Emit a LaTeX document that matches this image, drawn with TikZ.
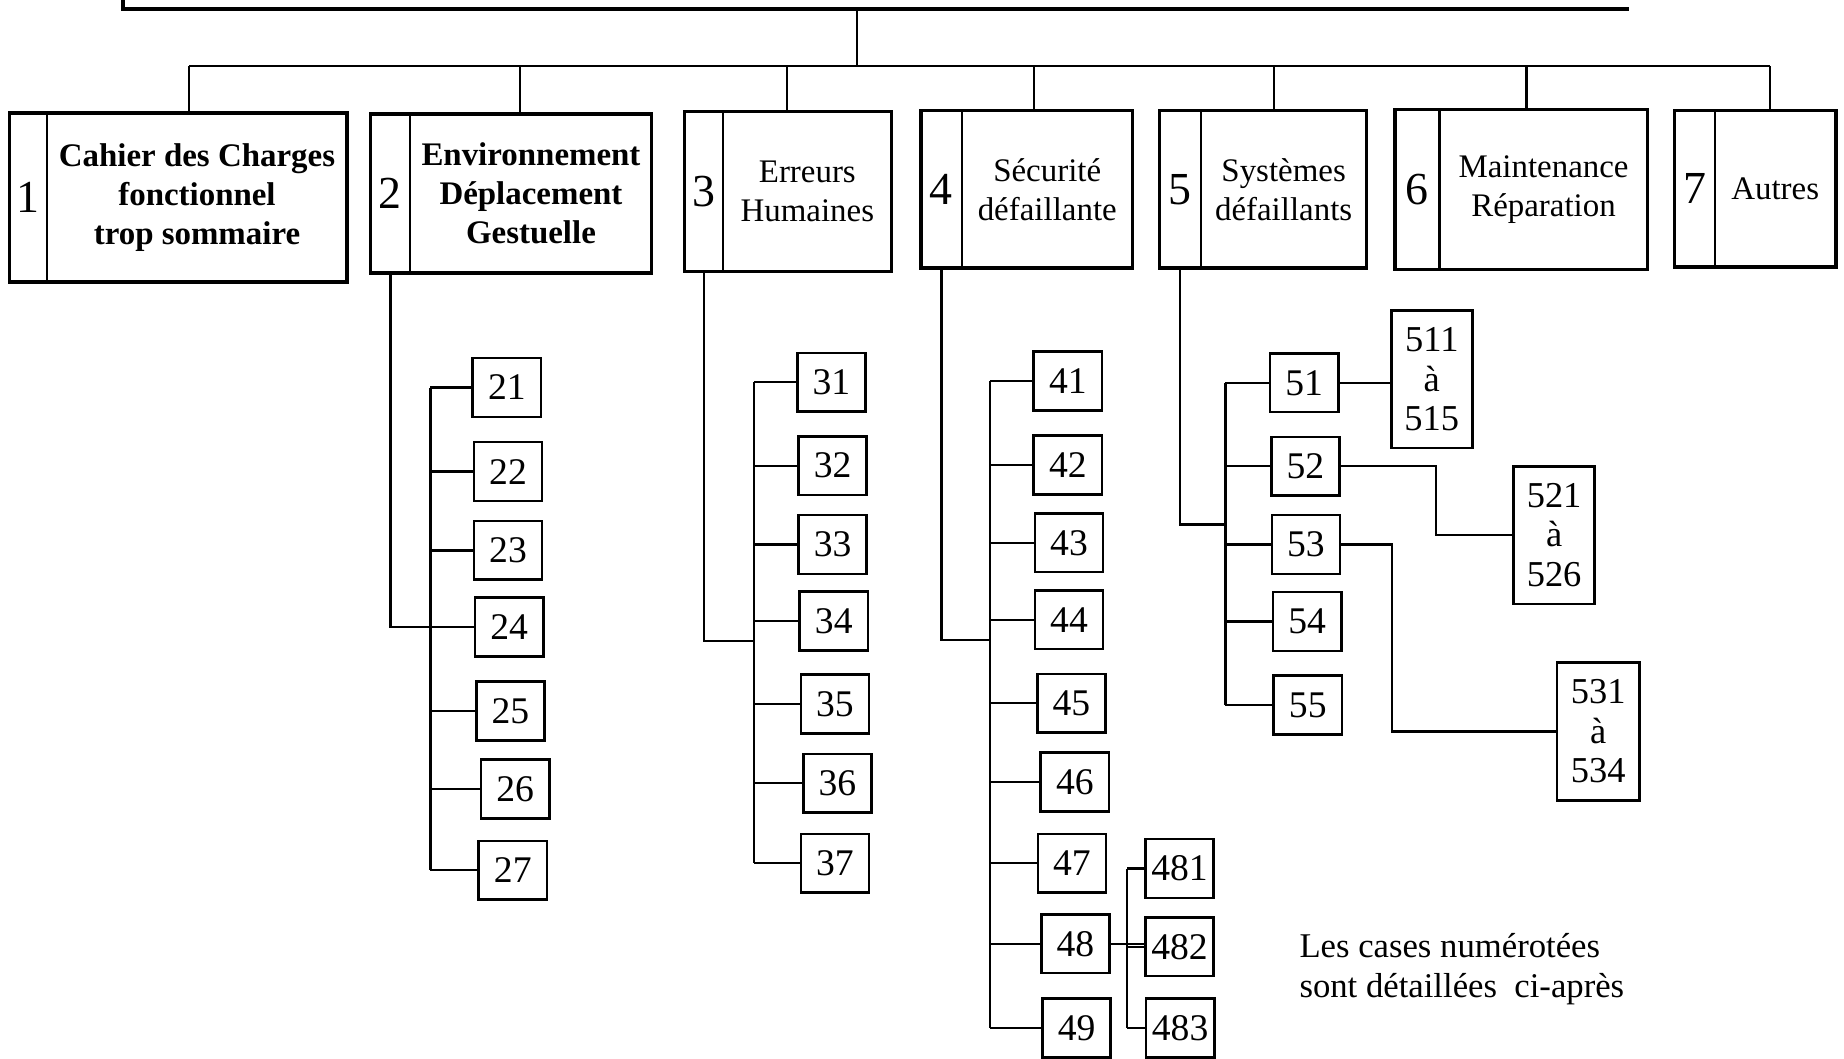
\documentclass[tikz,border=0pt]{standalone}
\usepackage{fontspec}
\setmainfont{Liberation Serif}
\usetikzlibrary{calc}
\newcommand\HeadBox[8]{%
  \node[hbox, minimum width=#4pt, minimum height=#5pt] (h#1) at (#2,#3) {};
  \node[hnum, minimum width=#6pt, minimum height=#5pt, anchor=west] (n#1) at (h#1.west) {#1};
  \node[#7] (t#1) at ($(h#1.east)!0.5!(n#1.east)$) {#8};
  \draw[divider] (n#1.north east) -- (n#1.south east);
}
\begin{document}
\begin{tikzpicture}[x=1pt,y=-1pt,
  hbox/.style={draw, line width=3pt, inner sep=0pt, outer sep=0pt},
  hnum/.style={inner sep=0pt, outer sep=0pt, font=\fontsize{39}{39}\selectfont},
  htxt/.style={inner sep=0pt, outer sep=0pt, align=center, font=\fontsize{28}{33}\selectfont},
  htxtb/.style={inner sep=0pt, outer sep=0pt, align=center, font=\fontsize{28}{33}\selectfont\bfseries},
  divider/.style={line width=1.8pt},
  sbox/.style={draw, line width=2.2pt, inner sep=0pt, outer sep=0pt, minimum width=58pt, minimum height=50pt, font=\fontsize{32}{32}\selectfont},
  tbox/.style={draw, line width=2.2pt, inner sep=0pt, outer sep=0pt, minimum width=69pt, minimum height=117pt, align=center, font=\fontsize{31}{33.5}\selectfont},
  conn/.style={line width=1.9pt},
  topline/.style={line width=3.4pt},
  note/.style={inner sep=0pt, outer sep=0pt, align=left, font=\fontsize{29.5}{34}\selectfont}
]
\useasboundingbox (0,0) rectangle (1568,900);
\clip (0,0) rectangle (1568,900);

% top box (only its lower part is visible)
\node[minimum width=1280pt, minimum height=120pt, inner sep=0pt, outer sep=0pt, anchor=south west] (top) at (105,8) {};
\draw[topline] (top.north west) -- (top.south west) -- (top.south east);
\coordinate (bus) at (729,56);
\draw[conn] (top.south -| bus) -- (bus);

% heading boxes
\HeadBox{1}{151.5}{168}{287}{144}{32}{htxtb}{Cahier des Charges\\fonctionnel\\trop sommaire}
\HeadBox{2}{434.5}{164.5}{239}{135}{34}{htxtb}{Environnement\\Déplacement\\Gestuelle}
\HeadBox{3}{670}{163}{176}{136}{33}{htxt}{Erreurs\\Humaines}
\HeadBox{4}{873}{161}{180}{134}{35}{htxt}{Sécurité\\défaillante}
\HeadBox{5}{1074}{161}{176}{134}{35}{htxt}{Systèmes\\défaillants}
\HeadBox{6}{1293.5}{161}{215}{136}{38}{htxt}{Maintenance\\Réparation}
\HeadBox{7}{1492.5}{160.5}{137}{133}{34}{htxt}{Autres}

% bus and drops
\draw[conn] ([xshift=9.5pt]h1.north |- bus) -- ([xshift=12.5pt]h7.north |- bus);
\draw[conn] ([xshift=9.5pt]h1.north) -- ([xshift=9.5pt]h1.north |- bus);
\draw[conn] ([xshift=7.5pt]h2.north) -- ([xshift=7.5pt]h2.north |- bus);
\draw[conn] ([xshift=-1pt]h3.north) -- ([xshift=-1pt]h3.north |- bus);
\draw[conn] ([xshift=6pt]h4.north) -- ([xshift=6pt]h4.north |- bus);
\draw[conn] ([xshift=9pt]h5.north) -- ([xshift=9pt]h5.north |- bus);
\draw[conn] ([xshift=4.5pt]h6.north) -- ([xshift=4.5pt]h6.north |- bus);
\draw[conn] ([xshift=12.5pt]h7.north) -- ([xshift=12.5pt]h7.north |- bus);

% column 2
\node[sbox] (b21) at (431,329.5) {21};
\node[sbox] (b22) at (432,401) {22};
\node[sbox] (b23) at (432,468) {23};
\node[sbox] (b24) at (433,533) {24};
\node[sbox] (b25) at (434,604.5) {25};
\node[sbox] (b26) at (438,671) {26};
\node[sbox] (b27) at (436,740) {27};
\coordinate (c2) at (366,0);
\coordinate (j2) at (366,533);
\draw[conn] (n2.south) |- (j2);
\draw[conn] (b21.west -| c2) -- (b27.west -| c2);
\foreach \k in {21,...,27} \draw[conn] (b\k.west) -- (b\k.west -| c2);

% column 3
\node[sbox] (b31) at (707,325) {31};
\node[sbox] (b32) at (708,396) {32};
\node[sbox] (b33) at (708,463) {33};
\node[sbox] (b34) at (709,528) {34};
\node[sbox] (b35) at (710,598.5) {35};
\node[sbox] (b36) at (712,666) {36};
\node[sbox] (b37) at (710,734) {37};
\coordinate (c3) at (641,0);
\coordinate (j3) at (641,545);
\draw[conn] (n3.south) |- (j3);
\draw[conn] (b31.west -| c3) -- (b37.west -| c3);
\foreach \k in {31,...,37} \draw[conn] (b\k.west) -- (b\k.west -| c3);

% column 4
\node[sbox] (b41) at (908,324) {41};
\node[sbox] (b42) at (908,395.5) {42};
\node[sbox] (b43) at (909,461.5) {43};
\node[sbox] (b44) at (909,527) {44};
\node[sbox] (b45) at (911,598) {45};
\node[sbox] (b46) at (914,665) {46};
\node[sbox] (b47) at (911.5,734) {47};
\node[sbox] (b48) at (914.5,802.5) {48};
\node[sbox] (b49) at (915.5,874) {49};
\coordinate (c4) at (842,0);
\coordinate (j4) at (842,544);
\draw[conn] (n4.south) |- (j4);
\draw[conn] (b41.west -| c4) -- (b49.west -| c4);
\foreach \k in {41,...,49} \draw[conn] (b\k.west) -- (b\k.west -| c4);

% sub-boxes of 48
\node[sbox] (b481) at (1003,738.5) {481};
\node[sbox] (b482) at (1003,805) {482};
\node[sbox] (b483) at (1003.5,874) {483};
\coordinate (c48) at (958,0);
\draw[conn] (b481.west -| c48) -- (b483.west -| c48);
\foreach \k in {481,482,483} \draw[conn] (b\k.west) -- (b\k.west -| c48);
\draw[conn] (b48.east) -- (b48.east -| b482.west);

% column 5
\node[sbox] (b51) at (1109,325.5) {51};
\node[sbox] (b52) at (1110,396.5) {52};
\node[sbox] (b53) at (1110.5,463) {53};
\node[sbox] (b54) at (1111.5,528.5) {54};
\node[sbox] (b55) at (1112,599.5) {55};
\coordinate (c5) at (1042,0);
\coordinate (j5) at (1042,446);
\draw[conn] (n5.south) |- (j5);
\draw[conn] (b51.west -| c5) -- (b55.west -| c5);
\foreach \k in {51,...,55} \draw[conn] (b\k.west) -- (b\k.west -| c5);

% ranges
\node[tbox] (b511) at (1217.5,322.5) {511\\à\\515};
\node[tbox] (b521) at (1321.5,455) {521\\à\\526};
\node[tbox, minimum width=70pt] (b531) at (1359,622) {531\\à\\534};
\draw[conn] (b51.east) -- (b51.east -| b511.west);
\draw[conn] (b52.east) -- ++(82,0) |- (b521.west);
\draw[conn] (b53.east) -- ++(44,0) |- (b531.west);

% note
\node[note, anchor=base west] (legend) at (1105,848) {Les cases numérotées\\sont détaillées\ \ ci-après};
\end{tikzpicture}
\end{document}
